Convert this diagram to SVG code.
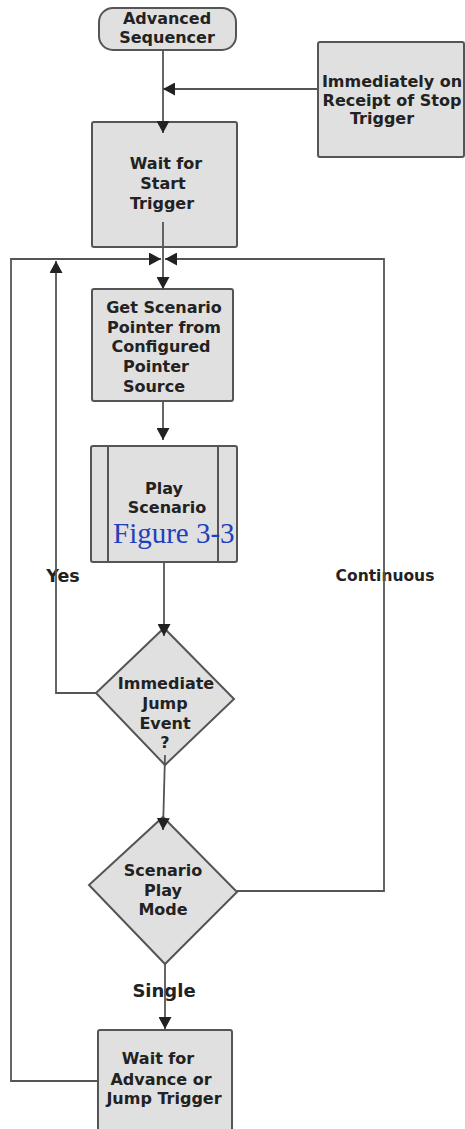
<svg xmlns="http://www.w3.org/2000/svg" width="465" height="1129" viewBox="0 0 465 1129">
<style>
.n{fill:#e0e0e0;stroke:#555;stroke-width:2}
.t{font-family:"DejaVu Sans",Verdana,sans-serif;font-weight:bold;font-size:16px;fill:#222;text-anchor:middle}
.lb{font-family:"DejaVu Sans",Verdana,sans-serif;font-weight:bold;fill:#222;text-anchor:middle}
.c{fill:none;stroke:#555;stroke-width:1.8}
.fig{font-family:"Liberation Serif","Times New Roman",serif;font-size:29px;fill:#1f3fbf}
</style>
<defs>
<marker id="ah" markerUnits="userSpaceOnUse" markerWidth="13" markerHeight="13" refX="12" refY="6.5" orient="auto">
<path d="M0,0 L12,6.5 L0,13 z" fill="#222"/>
</marker>
</defs>
<g id="advanced-sequencer">
<rect class="n" x="99" y="8" width="137" height="42" rx="14"/>
<text class="t" x="167" y="24">Advanced</text>
<text class="t" x="167" y="43">Sequencer</text>
</g>
<g id="stop-trigger">
<rect class="n" x="318" y="42" width="146" height="115" rx="2"/>
<text class="t" x="392" y="87">Immediately on</text>
<text class="t" x="392" y="106">Receipt of Stop</text>
<text class="t" x="382" y="124">Trigger</text>
</g>
<g id="wait-start">
<rect class="n" x="92" y="122" width="145" height="125" rx="2"/>
<text class="t" x="166" y="169">Wait for</text>
<text class="t" x="163" y="189">Start</text>
<text class="t" x="162" y="209">Trigger</text>
</g>
<g id="get-pointer">
<rect class="n" x="92" y="289" width="141" height="112" rx="2"/>
<text class="t" x="164" y="313">Get Scenario</text>
<text class="t" x="164" y="333">Pointer from</text>
<text class="t" x="161" y="352">Configured</text>
<text class="t" x="156" y="372">Pointer</text>
<text class="t" x="154" y="392">Source</text>
</g>
<g id="play-scenario">
<rect class="n" x="91" y="446" width="146" height="116" rx="2"/>
<line class="n" x1="108" y1="446" x2="108" y2="562"/>
<line class="n" x1="218" y1="446" x2="218" y2="562"/>
<text class="t" x="164" y="494">Play</text>
<text class="t" x="167" y="513">Scenario</text>
<text class="fig" x="113" y="543">Figure 3-3</text>
</g>
<g id="immediate-jump">
<path class="n" d="M164,628 L234,699 L165,765 L96,693 Z"/>
<text class="t" x="166" y="689">Immediate</text>
<text class="t" x="165" y="709">Jump</text>
<text class="t" x="165" y="729">Event</text>
<text class="t" x="165" y="748">?</text>
</g>
<g id="play-mode">
<path class="n" d="M163,817 L237,892 L165,964 L89,885 Z"/>
<text class="t" x="163" y="876">Scenario</text>
<text class="t" x="163" y="896">Play</text>
<text class="t" x="163" y="915">Mode</text>
</g>
<g id="wait-advance">
<rect class="n" x="98" y="1030" width="134" height="110" rx="2"/>
<text class="t" x="158" y="1064">Wait for</text>
<text class="t" x="161" y="1085">Advance or</text>
<text class="t" x="164" y="1104">Jump Trigger</text>
</g>
<g id="labels">
<text class="lb" x="63" y="582" font-size="17.5">Yes</text>
<text class="lb" x="385" y="581" font-size="15.5">Continuous</text>
<text class="lb" x="164" y="997" font-size="18">Single</text>
</g>
<g id="connectors">
<path class="c" d="M163,50 V133" stroke-width="2.5" marker-end="url(#ah)"/>
<path class="c" d="M318,89 H163" marker-end="url(#ah)"/>
<path class="c" d="M163,222 V289" marker-end="url(#ah)"/>
<path class="c" d="M98,1081 H11 V259 H161" marker-end="url(#ah)"/>
<path class="c" d="M237,891 H384 V259 H165" marker-end="url(#ah)"/>
<path class="c" d="M96,693 H56 V261" marker-end="url(#ah)"/>
<path class="c" d="M163,401 V440" marker-end="url(#ah)"/>
<path class="c" d="M164,562 V636" marker-end="url(#ah)"/>
<path class="c" d="M165,755 L163,830" marker-end="url(#ah)"/>
<path class="c" d="M165,964 V1029" marker-end="url(#ah)"/>
</g>
</svg>
